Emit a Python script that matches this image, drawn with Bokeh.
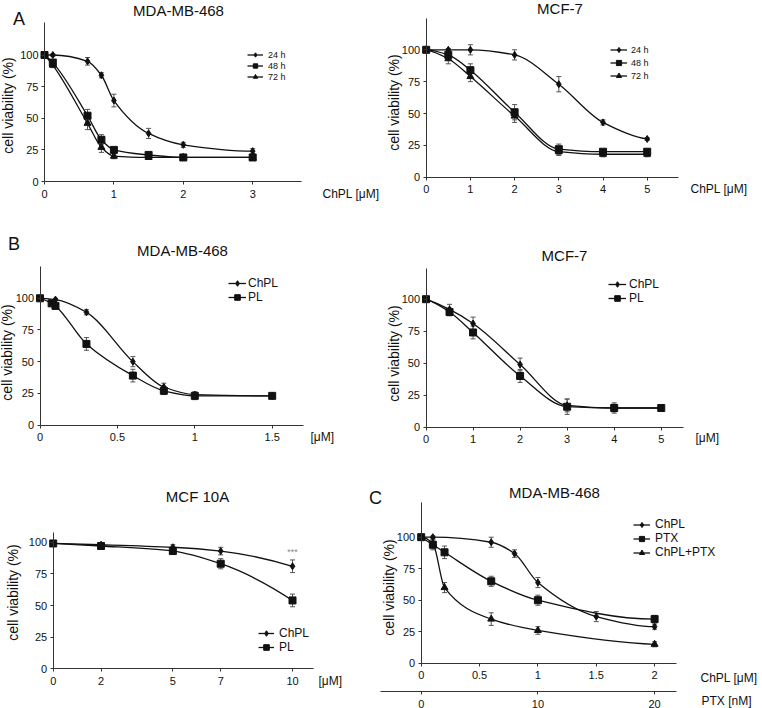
import numpy as np
from bokeh.plotting import figure
from bokeh.models import (Range1d, LinearAxis, FixedTicker, Label, Legend, LegendItem,
                          ColumnDataSource, Whisker, TeeHead, NumeralTickFormatter)
from bokeh.layouts import row, column
from bokeh.embed import file_html
from bokeh.resources import INLINE

# ---------------- data (cell viability, %) ----------------
# A: MDA-MB-468, ChPL [uM], 24/48/72 h
a1_x = [0, 0.12, 0.62, 0.82, 1.0, 1.5, 2, 3]
a1_24 = [100, 100, 95, 84, 64, 38, 29, 24]
a1_24_err = [1, 1, 3, 2, 5, 4, 2, 2]
a1_48 = [100, 94, 52, 33, 25, 21, 19, 19]
a1_48_err = [1, 2, 5, 4, 2, 1, 1, 1]
a1_72 = [100, 92, 46, 27, 20, 19, 19, 19]
a1_72_err = [1, 2, 5, 4, 2, 1, 1, 1]
a1_xticks = [0, 1, 2, 3]

# A: MCF-7
a2_x = [0, 0.5, 1, 2, 3, 4, 5]
a2_24 = [100, 100, 100, 96, 73, 43, 30]
a2_24_err = [1, 1, 4, 4, 6, 2, 1]
a2_48 = [100, 96, 84, 51, 22, 20, 20]
a2_48_err = [1, 2, 5, 6, 4, 2, 2]
a2_72 = [100, 93, 79, 48, 20, 18, 18]
a2_72_err = [1, 4, 4, 5, 3, 2, 2]
a2_xticks = [0, 1, 2, 3, 4, 5]

# B: MDA-MB-468, ChPL vs PL
b1_chpl_x = [0, 0.1, 0.3, 0.6, 0.8, 1.0, 1.5]
b1_chpl = [100, 99, 89, 50, 30, 24, 23]
b1_chpl_err = [1, 1, 2, 4, 3, 2, 1]
b1_pl_x = [0, 0.075, 0.1, 0.3, 0.6, 0.8, 1.0, 1.5]
b1_pl = [100, 96, 94, 64, 39, 27, 23, 23]
b1_pl_err = [1, 2, 2, 5, 5, 3, 3, 1]
b1_xticks = [0, 0.5, 1, 1.5]

# B: MCF-7, ChPL vs PL
b2_x = [0, 0.5, 1, 2, 3, 4, 5]
b2_chpl = [100, 92, 81, 49, 17, 15, 15]
b2_chpl_err = [1, 4, 5, 5, 5, 4, 1]
b2_pl = [100, 90, 74, 40, 16, 15, 15]
b2_pl_err = [1, 3, 5, 5, 6, 3, 1]
b2_xticks = [0, 1, 2, 3, 4, 5]

# MCF 10A, ChPL vs PL
m_x = [0, 2, 5, 7, 10]
m_chpl = [99, 98, 96, 93, 81]
m_chpl_err = [1, 1, 2, 3, 5]
m_pl = [99, 97, 93, 83, 54]
m_pl_err = [1, 1, 2, 4, 5]
m_xticks = [0, 2, 5, 7, 10]

# C: MDA-MB-468, ChPL [uM], PTX [nM], ChPL+PTX
c_chpl_x = [0, 0.1, 0.6, 0.8, 1.0, 1.5, 2.0]
c_chpl = [100, 100, 96, 87, 64, 37, 29]
c_chpl_err = [1, 1, 4, 3, 4, 4, 2]
c_ptx_x = [0, 1, 2, 6, 10, 20]
c_ptx = [100, 94, 88, 65, 50, 35]
c_ptx_err = [1, 4, 5, 4, 4, 3]
c_combo_x = [0, 0.1, 0.2, 0.6, 1.0, 2.0]
c_combo = [100, 95, 60, 35, 26, 15]
c_combo_err = [1, 2, 4, 5, 3, 2]
c_xticks = [0, 0.5, 1, 1.5, 2]
c_ptx_ticks = [0, 10, 20]

y_ticks = [0, 25, 50, 75, 100]

# ---------------- layout (reference pixel geometry) ----------------
FONT = "Liberation Sans"
INK = "#111111"
ERR = "#555555"
AXC = "#333333"

PANELS = {
    "A1": dict(box=(0, 0, 385, 214), ax0=44.0, ay0=181.0, xpx=69.4, ypx=1.265, xend=3.71, ytop=125.5),
    "A2": dict(box=(385, 0, 377, 214), ax0=425.7, ay0=176.7, xpx=44.2, ypx=1.274, xend=5.7, ytop=124.3),
    "B1": dict(box=(0, 214, 372, 234), ax0=39.5, ay0=424.5, xpx=154.8, ypx=1.267, xend=1.70, ytop=125.0),
    "B2": dict(box=(372, 214, 390, 234), ax0=425.5, ay0=426.7, xpx=47.05, ypx=1.28, xend=5.47, ytop=124.0),
    "M": dict(box=(0, 448, 364, 260), ax0=52.7, ay0=668.3, xpx=23.93, ypx=1.266, xend=10.89, ytop=108.0),
    "C": dict(box=(364, 448, 398, 260), ax0=420.7, ay0=662.7, xpx=116.7, ypx=1.26, xend=2.19, ytop=127.8),
}


def style_axis(a, standoff=3):
    a.axis_line_color = AXC
    a.axis_line_width = 1
    a.major_tick_line_color = AXC
    a.major_tick_out = 3
    a.major_tick_in = 0
    a.minor_tick_line_color = None
    a.major_label_text_font = FONT
    a.major_label_text_font_size = "11px"
    a.major_label_text_color = INK
    a.major_label_standoff = standoff


def make_fig(P, xticks, xstandoff=5):
    bx, by, bw, bh = P["box"]
    ax0, ay0, xpx, ypx = P["ax0"], P["ay0"], P["xpx"], P["ypx"]
    xr = Range1d((bx - ax0) / xpx, (bx + bw - ax0) / xpx)
    yr = Range1d((ay0 - (by + bh)) / ypx, (ay0 - by) / ypx)
    p = figure(width=bw, height=bh, x_range=xr, y_range=yr,
               x_axis_type=None, y_axis_type=None, title=None,
               toolbar_location=None, output_backend="svg",
               min_border_left=0, min_border_right=0,
               min_border_top=0, min_border_bottom=0,
               outline_line_color=None, background_fill_color="white",
               border_fill_color="white")
    xa = LinearAxis(ticker=FixedTicker(ticks=xticks), bounds=(0, P["xend"]),
                    formatter=NumeralTickFormatter(format="0.[0]"), fixed_location=0)
    style_axis(xa, standoff=xstandoff)
    p.add_layout(xa, "below")
    ya = LinearAxis(ticker=FixedTicker(ticks=y_ticks), bounds=(0, P["ytop"]), fixed_location=0)
    style_axis(ya)
    p.add_layout(ya, "left")
    return p


def pchip_slopes(x, y):
    x = np.asarray(x, float)
    y = np.asarray(y, float)
    h = np.diff(x)
    d = np.diff(y) / h
    n = len(x)
    m = np.zeros(n)
    for k in range(1, n - 1):
        if d[k - 1] * d[k] > 0:
            w1 = 2 * h[k] + h[k - 1]
            w2 = h[k] + 2 * h[k - 1]
            m[k] = (w1 + w2) / (w1 / d[k - 1] + w2 / d[k])

    def end(h0, h1, d0, d1):
        s = ((2 * h0 + h1) * d0 - h0 * d1) / (h0 + h1)
        if np.sign(s) != np.sign(d0):
            s = 0.0
        elif np.sign(d0) != np.sign(d1) and abs(s) > abs(3 * d0):
            s = 3 * d0
        return s

    if n > 2:
        m[0] = end(h[0], h[1], d[0], d[1])
        m[-1] = end(h[-1], h[-2], d[-1], d[-2])
    else:
        m[:] = d[0]
    return m


def series(p, x, y, err, marker, size, rname=None):
    kw = {} if rname is None else {"x_range_name": rname}
    xa = np.asarray(x, float)
    ya = np.asarray(y, float)
    ea = np.asarray(err, float)
    m = pchip_slopes(xa, ya)
    h = np.diff(xa)
    src = ColumnDataSource(dict(
        x0=xa[:-1], y0=ya[:-1], x1=xa[1:], y1=ya[1:],
        cx0=xa[:-1] + h / 3, cy0=ya[:-1] + m[:-1] * h / 3,
        cx1=xa[1:] - h / 3, cy1=ya[1:] - m[1:] * h / 3))
    curve = p.bezier(x0="x0", y0="y0", x1="x1", y1="y1", cx0="cx0", cy0="cy0",
                     cx1="cx1", cy1="cy1", source=src, line_color=INK, line_width=1.3, **kw)
    wsrc = ColumnDataSource(dict(x=xa, lo=ya - ea, hi=ya + ea))
    w = Whisker(source=wsrc, base="x", lower="lo", upper="hi", dimension="height",
                line_color=ERR, line_width=1,
                upper_head=TeeHead(size=5, line_color=ERR, line_width=1),
                lower_head=TeeHead(size=5, line_color=ERR, line_width=1), **kw)
    p.add_layout(w)
    pts = p.scatter(xa, ya, marker=marker, size=size, fill_color=INK, line_color=INK, **kw)
    return [curve, pts]


def put(p, P, X, Y, text, size, align="left", angle=0, color=INK):
    p.add_layout(Label(x=(X - P["ax0"]) / P["xpx"], y=(P["ay0"] - Y) / P["ypx"],
                       text=text, text_font=FONT, text_font_size=f"{size}px",
                       text_align=align, text_baseline="middle", angle=angle,
                       angle_units="deg", text_color=color))


def legend(p, P, items, X, Y0, gh, gw, st, fs):
    bx, by, bw, bh = P["box"]
    top = Y0 - gh / 2
    bottom = top + len(items) * gh
    leg = Legend(items=[LegendItem(label=t, renderers=r) for t, r in items],
                 location=(int(round(X - bx)), int(round(by + bh - bottom))),
                 orientation="vertical", glyph_width=gw, glyph_height=gh,
                 label_height=gh, label_width=10, label_standoff=st, spacing=0,
                 padding=0, margin=0, border_line_color=None,
                 background_fill_alpha=0, label_text_font=FONT,
                 label_text_font_size=f"{fs}px", label_text_color=INK,
                 label_text_baseline="middle")
    p.add_layout(leg)


# ---------------- A1 ----------------
P = PANELS["A1"]
pa1 = make_fig(P, a1_xticks)
r24 = series(pa1, a1_x, a1_24, a1_24_err, "diamond", 7)
r48 = series(pa1, a1_x, a1_48, a1_48_err, "square", 7)
r72 = series(pa1, a1_x, a1_72, a1_72_err, "triangle", 7)
legend(pa1, P, [("24 h", r24), ("48 h", r48), ("72 h", r72)], 247, 54.3, 11, 16, 5, 9)
put(pa1, P, 178, 10, "MDA-MB-468", 15, "center")
put(pa1, P, 18.5, 18.5, "A", 18, "center")
put(pa1, P, 7, 105, "cell viability (%)", 14, "center", 90)
put(pa1, P, 322, 193, "ChPL [\u03bcM]", 12)

# ---------------- A2 ----------------
P = PANELS["A2"]
pa2 = make_fig(P, a2_xticks)
r24 = series(pa2, a2_x, a2_24, a2_24_err, "diamond", 7)
r48 = series(pa2, a2_x, a2_48, a2_48_err, "square", 7)
r72 = series(pa2, a2_x, a2_72, a2_72_err, "triangle", 7)
legend(pa2, P, [("24 h", r24), ("48 h", r48), ("72 h", r72)], 610, 49, 13, 17, 4, 9)
put(pa2, P, 559.5, 8, "MCF-7", 15, "center")
put(pa2, P, 393, 102, "cell viability (%)", 14, "center", 90)
put(pa2, P, 690, 188, "ChPL [\u03bcM]", 12)

# ---------------- B1 ----------------
P = PANELS["B1"]
pb1 = make_fig(P, b1_xticks)
rc = series(pb1, b1_chpl_x, b1_chpl, b1_chpl_err, "diamond", 7)
rp = series(pb1, b1_pl_x, b1_pl, b1_pl_err, "square", 7)
legend(pb1, P, [("ChPL", rc), ("PL", rp)], 228, 283.3, 14, 18, 2, 12)
put(pb1, P, 182, 250, "MDA-MB-468", 15, "center")
put(pb1, P, 13.5, 243.5, "B", 18, "center")
put(pb1, P, 6, 352, "cell viability (%)", 14, "center", 90)
put(pb1, P, 310, 436, "[\u03bcM]", 12)

# ---------------- B2 ----------------
P = PANELS["B2"]
pb2 = make_fig(P, b2_xticks)
rc = series(pb2, b2_x, b2_chpl, b2_chpl_err, "diamond", 7)
rp = series(pb2, b2_x, b2_pl, b2_pl_err, "square", 7)
legend(pb2, P, [("ChPL", rc), ("PL", rp)], 608, 284, 14, 18, 3, 12)
put(pb2, P, 564, 255, "MCF-7", 15, "center")
put(pb2, P, 393, 353, "cell viability (%)", 14, "center", 90)
put(pb2, P, 695, 437, "[\u03bcM]", 12)

# ---------------- MCF 10A ----------------
P = PANELS["M"]
pm = make_fig(P, m_xticks)
rc = series(pm, m_x, m_chpl, m_chpl_err, "diamond", 7)
rp = series(pm, m_x, m_pl, m_pl_err, "square", 7)
legend(pm, P, [("ChPL", rc), ("PL", rp)], 258, 633.3, 14, 16, 5, 12)
put(pm, P, 197, 496, "MCF 10A", 15, "center")
put(pm, P, 12, 592, "cell viability (%)", 14, "center", 90)
put(pm, P, 318, 680, "[\u03bcM]", 12)
put(pm, P, 292, 551, "***", 9, "center", 0, "#888888")

# ---------------- C ----------------
P = PANELS["C"]
pc = make_fig(P, c_xticks, xstandoff=5)
xr = pc.x_range
pc.extra_x_ranges = {"ptx": Range1d(xr.start * 10, xr.end * 10)}
ptx_axis = LinearAxis(x_range_name="ptx", ticker=FixedTicker(ticks=c_ptx_ticks),
                      bounds=((380 - P["ax0"]) / P["xpx"] * 10, P["xend"] * 10),
                      fixed_location=(P["ay0"] - 691) / P["ypx"])
style_axis(ptx_axis, standoff=5)
pc.add_layout(ptx_axis, "below")
rc = series(pc, c_chpl_x, c_chpl, c_chpl_err, "diamond", 7)
rp = series(pc, c_ptx_x, c_ptx, c_ptx_err, "square", 7, rname="ptx")
rcp = series(pc, c_combo_x, c_combo, c_combo_err, "triangle", 7)
legend(pc, P, [("ChPL", rc), ("PTX", rp), ("ChPL+PTX", rcp)], 633, 526.7, 13, 17, 5, 12)
put(pc, P, 554, 492, "MDA-MB-468", 15, "center")
put(pc, P, 375, 497, "C", 18, "center")
put(pc, P, 388, 587, "cell viability (%)", 14, "center", 90)
put(pc, P, 700, 677, "ChPL [\u03bcM]", 12)
put(pc, P, 701, 700, "PTX [nM]", 12)

layout = column(row(pa1, pa2), row(pb1, pb2), row(pm, pc))

with open("out.html", "w") as f:
    f.write(file_html(layout, INLINE))
